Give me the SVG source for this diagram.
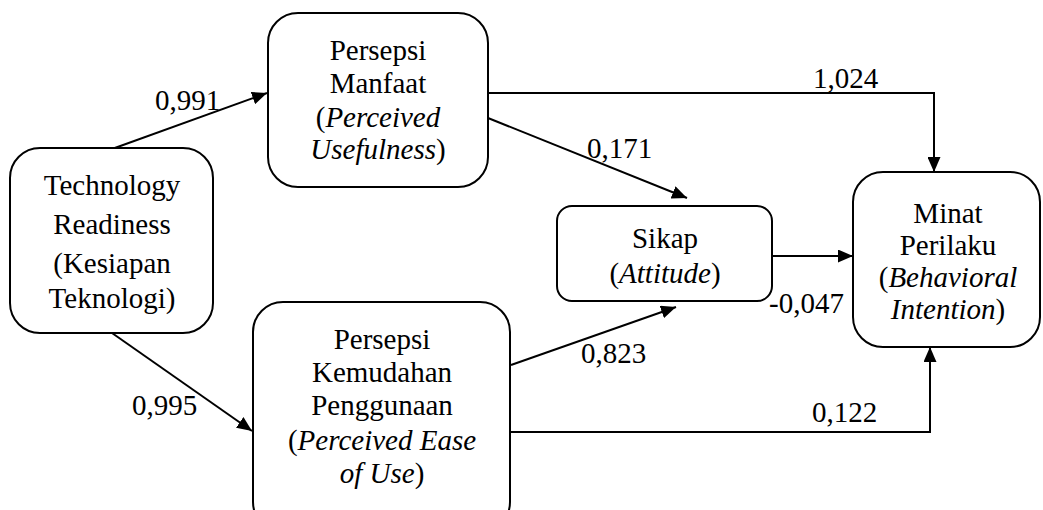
<svg xmlns="http://www.w3.org/2000/svg" width="1043" height="510" viewBox="0 0 1043 510">
<style>
.box{fill:#fff;stroke:#000;stroke-width:2}
.t{font-family:'Liberation Serif','DejaVu Serif',serif;font-size:29px;fill:#000;text-anchor:middle}
.l{font-family:'Liberation Serif','DejaVu Serif',serif;font-size:29px;fill:#000}
.c{fill:none;stroke:#000;stroke-width:2;marker-end:url(#ah)}
</style>
<defs>
<marker id="ah" markerUnits="userSpaceOnUse" markerWidth="16" markerHeight="13" refX="15" refY="6.5" orient="auto">
<path d="M0,0 L15,6.5 L0,13 z" fill="#000"/>
</marker>
</defs>
<rect width="1043" height="510" fill="#fff"/>
<g id="connectors">
<line class="c" x1="112" y1="149" x2="267" y2="93"/>
<line class="c" x1="112" y1="333" x2="252" y2="431"/>
<line class="c" x1="488" y1="118" x2="687" y2="198"/>
<line class="c" x1="511" y1="365" x2="676" y2="307"/>
<polyline class="c" points="488,93 934,93 934,172"/>
<polyline class="c" points="510,432 930,432 930,347"/>
<line class="c" x1="772" y1="256" x2="853" y2="256"/>
<text class="l" x="155" y="110">0,991</text>
<text class="l" x="132" y="415">0,995</text>
<text class="l" x="587" y="158">0,171</text>
<text class="l" x="581" y="363">0,823</text>
<text class="l" x="813" y="88">1,024</text>
<text class="l" x="812" y="422">0,122</text>
<text class="l" x="769" y="313">-0,047</text>
</g>
<g id="tr">
<rect class="box" x="10" y="148" width="203" height="185" rx="30"/>
<text class="t" x="112" y="195">Technology</text>
<text class="t" x="112" y="234">Readiness</text>
<text class="t" x="112" y="273">(Kesiapan</text>
<text class="t" x="112" y="308">Teknologi)</text>
</g>
<g id="pm">
<rect class="box" x="268" y="13" width="220" height="174" rx="30"/>
<text class="t" x="378" y="60">Persepsi</text>
<text class="t" x="378" y="93">Manfaat</text>
<text class="t" x="378" y="127">(<tspan font-style="italic">Perceived</tspan></text>
<text class="t" x="378" y="159"><tspan font-style="italic">Usefulness</tspan>)</text>
</g>
<g id="pke">
<rect class="box" x="253" y="302" width="257" height="230" rx="30"/>
<text class="t" x="382" y="349">Persepsi</text>
<text class="t" x="382" y="382">Kemudahan</text>
<text class="t" x="382" y="415">Penggunaan</text>
<text class="t" x="382" y="450">(<tspan font-style="italic">Perceived Ease</tspan></text>
<text class="t" x="382" y="483"><tspan font-style="italic">of Use</tspan>)</text>
</g>
<g id="sikap">
<rect class="box" x="557" y="206" width="215" height="95" rx="15"/>
<text class="t" x="665" y="248">Sikap</text>
<text class="t" x="665" y="283">(<tspan font-style="italic">Attitude</tspan>)</text>
</g>
<g id="mp">
<rect class="box" x="853" y="172" width="187" height="175" rx="30"/>
<text class="t" x="948" y="223">Minat</text>
<text class="t" x="948" y="255">Perilaku</text>
<text class="t" x="948" y="287">(<tspan font-style="italic">Behavioral</tspan></text>
<text class="t" x="948" y="319"><tspan font-style="italic">Intention</tspan>)</text>
</g>
</svg>
